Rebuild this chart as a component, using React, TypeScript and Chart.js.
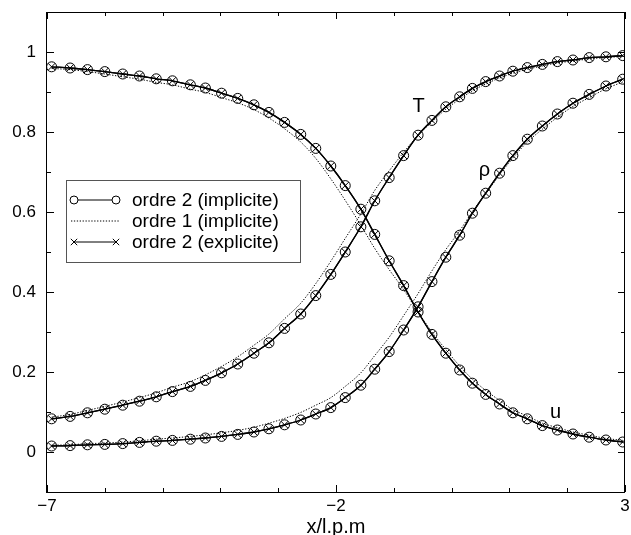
import React, { useEffect, useRef } from 'react';
import { Chart, registerables } from 'chart.js';

Chart.register(...registerables);

// mesh abscissae (x/l.p.m) of the plotted points
const xMesh = [-6.92, -6.6, -6.3, -6.0, -5.69, -5.4, -5.11, -4.83, -4.52, -4.26, -3.98, -3.7, -3.42, -3.16, -2.89, -2.61, -2.35, -2.09, -1.84, -1.57, -1.33, -1.08, -0.83, -0.58, -0.34, -0.1, 0.14, 0.36, 0.59, 0.83, 1.06, 1.31, 1.57, 1.83, 2.1, 2.38, 2.67, 2.96];

// u
const uOrdre2Impl = [0.963, 0.96, 0.956, 0.951, 0.945, 0.94, 0.933, 0.928, 0.918, 0.91, 0.897, 0.884, 0.868, 0.849, 0.824, 0.794, 0.759, 0.715, 0.666, 0.607, 0.544, 0.478, 0.416, 0.35, 0.294, 0.247, 0.205, 0.172, 0.144, 0.12, 0.098, 0.083, 0.066, 0.055, 0.045, 0.037, 0.03, 0.025];
const uOrdre1Impl = [0.959, 0.956, 0.951, 0.945, 0.938, 0.932, 0.924, 0.918, 0.907, 0.899, 0.886, 0.873, 0.856, 0.835, 0.808, 0.775, 0.734, 0.683, 0.629, 0.567, 0.509, 0.456, 0.406, 0.35, 0.3, 0.256, 0.215, 0.182, 0.154, 0.129, 0.106, 0.09, 0.072, 0.061, 0.05, 0.042, 0.034, 0.029];
const uOrdre2Expl = [0.963, 0.96, 0.956, 0.951, 0.945, 0.94, 0.933, 0.928, 0.918, 0.91, 0.897, 0.884, 0.868, 0.849, 0.824, 0.794, 0.759, 0.715, 0.666, 0.607, 0.544, 0.478, 0.416, 0.35, 0.294, 0.247, 0.205, 0.172, 0.144, 0.12, 0.098, 0.083, 0.066, 0.055, 0.045, 0.037, 0.03, 0.025];

// T
const tOrdre2Impl = [0.083, 0.089, 0.098, 0.107, 0.117, 0.127, 0.138, 0.151, 0.164, 0.179, 0.198, 0.22, 0.247, 0.273, 0.309, 0.345, 0.391, 0.444, 0.5, 0.563, 0.628, 0.686, 0.741, 0.792, 0.829, 0.863, 0.888, 0.909, 0.926, 0.94, 0.952, 0.961, 0.969, 0.976, 0.98, 0.986, 0.988, 0.991];
const tOrdre1Impl = [0.087, 0.094, 0.104, 0.114, 0.125, 0.136, 0.148, 0.162, 0.176, 0.193, 0.214, 0.238, 0.267, 0.295, 0.333, 0.372, 0.421, 0.477, 0.534, 0.595, 0.654, 0.703, 0.749, 0.792, 0.825, 0.857, 0.882, 0.903, 0.92, 0.935, 0.947, 0.957, 0.965, 0.973, 0.977, 0.983, 0.986, 0.989];
const tOrdre2Expl = [0.083, 0.089, 0.098, 0.107, 0.117, 0.127, 0.138, 0.151, 0.164, 0.179, 0.198, 0.22, 0.247, 0.273, 0.309, 0.345, 0.391, 0.444, 0.5, 0.563, 0.628, 0.686, 0.741, 0.792, 0.829, 0.863, 0.888, 0.909, 0.926, 0.94, 0.952, 0.961, 0.969, 0.976, 0.98, 0.986, 0.988, 0.991];

// rho
const rhoOrdre2Impl = [0.015, 0.016, 0.018, 0.019, 0.021, 0.024, 0.027, 0.029, 0.032, 0.035, 0.039, 0.044, 0.05, 0.058, 0.068, 0.08, 0.095, 0.111, 0.136, 0.167, 0.207, 0.251, 0.305, 0.363, 0.426, 0.487, 0.542, 0.597, 0.647, 0.697, 0.741, 0.782, 0.815, 0.845, 0.872, 0.894, 0.915, 0.932];
const rhoOrdre1Impl = [0.017, 0.018, 0.021, 0.022, 0.025, 0.028, 0.032, 0.035, 0.039, 0.043, 0.048, 0.054, 0.062, 0.072, 0.084, 0.099, 0.117, 0.136, 0.164, 0.198, 0.241, 0.287, 0.341, 0.396, 0.453, 0.506, 0.553, 0.601, 0.645, 0.693, 0.735, 0.775, 0.807, 0.837, 0.864, 0.886, 0.908, 0.925];
const rhoOrdre2Expl = [0.015, 0.016, 0.018, 0.019, 0.021, 0.024, 0.027, 0.029, 0.032, 0.035, 0.039, 0.044, 0.05, 0.058, 0.068, 0.08, 0.095, 0.111, 0.136, 0.167, 0.207, 0.251, 0.305, 0.363, 0.426, 0.487, 0.542, 0.597, 0.647, 0.697, 0.741, 0.782, 0.815, 0.845, 0.872, 0.894, 0.915, 0.932];

// axes
const xMajorTicks = [-7, -2, 3];
const xMinorTicks = [-6, -5, -4, -3, -1, 0, 1, 2];
const yMajorTicks = [0, 0.2, 0.4, 0.6, 0.8, 1];
const yMinorTicks = [0.1, 0.3, 0.5, 0.7, 0.9];
const xTickLabels = ['\u22127', '\u22122', '3'];
const xTitle = 'x/l.p.m';

const legendLabels = ['ordre 2 (implicite)', 'ordre 1 (implicite)', 'ordre 2 (explicite)'];
const curveNames = ['T', '\u03C1', 'u'];
const curveNameX = [-0.57, 0.57, 1.8];
const curveNameY = [0.865, 0.705, 0.1];

const FONT = '"Liberation Sans", Arial, Helvetica, sans-serif';

const toXY = (ys: number[]) => ys.map((y, i) => ({ x: xMesh[i], y }));

const styleImpl2 = {
  showLine: true,
  borderColor: '#000',
  borderWidth: 1.3,
  pointStyle: 'circle',
  pointRadius: 5,
  pointBorderWidth: 1,
  pointBorderColor: '#000',
  pointBackgroundColor: 'rgba(0,0,0,0)',
  cubicInterpolationMode: 'monotone',
};
const styleImpl1 = {
  showLine: true,
  borderColor: '#000',
  borderWidth: 1,
  borderDash: [1.3, 1.6],
  pointRadius: 0,
  cubicInterpolationMode: 'monotone',
};
const styleExpl2 = {
  showLine: true,
  borderColor: '#000',
  borderWidth: 1.3,
  pointStyle: 'crossRot',
  pointRadius: 5,
  pointBorderWidth: 1,
  pointBorderColor: '#000',
  cubicInterpolationMode: 'monotone',
};

const decorPlugin = {
  id: 'decor',
  afterDatasetsDraw(chart: any) {
    const { ctx, chartArea, scales } = chart;
    const { left, right, top, bottom } = chartArea;
    const xs = scales.x;
    const ys = scales.y;
    ctx.save();
    // frame
    ctx.strokeStyle = '#000';
    ctx.lineWidth = 1;
    ctx.strokeRect(left - 0.5, top + 0.5, right - left, bottom - top);
    // ticks (inward, on all four sides)
    const major = 7;
    const minor = 4;
    ctx.beginPath();
    const xt = (v: number, len: number) => {
      const p = Math.round(xs.getPixelForValue(v)) + 0.5;
      ctx.moveTo(p, bottom); ctx.lineTo(p, bottom - len);
      ctx.moveTo(p, top); ctx.lineTo(p, top + len);
    };
    const yt = (v: number, len: number) => {
      const p = Math.round(ys.getPixelForValue(v)) + 0.5;
      ctx.moveTo(left, p); ctx.lineTo(left + len, p);
      ctx.moveTo(right, p); ctx.lineTo(right - len, p);
    };
    xMajorTicks.forEach((v) => xt(v, major));
    xMinorTicks.forEach((v) => xt(v, minor));
    yMajorTicks.forEach((v) => yt(v, major));
    yMinorTicks.forEach((v) => yt(v, minor));
    ctx.stroke();

    // x tick labels and title
    ctx.fillStyle = '#000';
    ctx.textAlign = 'center';
    ctx.textBaseline = 'middle';
    ctx.font = `17px ${FONT}`;
    xMajorTicks.forEach((v, i) => {
      ctx.fillText(xTickLabels[i], xs.getPixelForValue(v), bottom + 14);
    });
    ctx.font = `20px ${FONT}`;
    ctx.fillText(xTitle, (left + right) / 2, bottom + 35);

    // curve names
    ctx.font = `20px ${FONT}`;
    curveNames.forEach((t, i) => {
      ctx.fillText(t, xs.getPixelForValue(curveNameX[i]), ys.getPixelForValue(curveNameY[i]));
    });

    // legend
    const bx = left + 19;
    const by = top + 168;
    const bw = 234;
    const bh = 82;
    ctx.fillStyle = '#fff';
    ctx.fillRect(bx, by, bw, bh);
    ctx.strokeStyle = '#555';
    ctx.lineWidth = 1;
    ctx.strokeRect(bx + 0.5, by + 0.5, bw, bh);
    const rows = [by + 20, by + 41, by + 62];
    const x0 = bx + 8;
    const x1 = bx + 50;
    ctx.strokeStyle = '#000';
    // row 1: line with circles
    ctx.beginPath();
    ctx.moveTo(x0 + 4, rows[0]); ctx.lineTo(x1 - 4, rows[0]);
    ctx.stroke();
    [x0, x1].forEach((px) => {
      ctx.beginPath();
      ctx.arc(px, rows[0], 4, 0, Math.PI * 2);
      ctx.stroke();
    });
    // row 2: dotted
    ctx.save();
    ctx.setLineDash([1.3, 1.6]);
    ctx.beginPath();
    ctx.moveTo(x0 - 3, rows[1]); ctx.lineTo(x1 + 3, rows[1]);
    ctx.stroke();
    ctx.restore();
    // row 3: line with crosses
    ctx.beginPath();
    ctx.moveTo(x0, rows[2]); ctx.lineTo(x1, rows[2]);
    [x0, x1].forEach((px) => {
      const r = 3.2;
      ctx.moveTo(px - r, rows[2] - r); ctx.lineTo(px + r, rows[2] + r);
      ctx.moveTo(px - r, rows[2] + r); ctx.lineTo(px + r, rows[2] - r);
    });
    ctx.stroke();
    ctx.fillStyle = '#000';
    ctx.textAlign = 'left';
    ctx.textBaseline = 'middle';
    ctx.font = `19px ${FONT}`;
    legendLabels.forEach((t, i) => ctx.fillText(t, bx + 66, rows[i] + 1));
    ctx.restore();
  },
};

export default function App() {
  const ref = useRef<HTMLCanvasElement | null>(null);
  useEffect(() => {
    document.body.style.margin = '0';
    const canvas = ref.current;
    if (!canvas) return;
    const datasets: any[] = [];
    const groups = [
      [uOrdre2Impl, uOrdre1Impl, uOrdre2Expl],
      [tOrdre2Impl, tOrdre1Impl, tOrdre2Expl],
      [rhoOrdre2Impl, rhoOrdre1Impl, rhoOrdre2Expl],
    ];
    groups.forEach(([a, b, c]) => {
      datasets.push({ ...styleImpl1, data: toXY(b) });
      datasets.push({ ...styleImpl2, data: toXY(a) });
      datasets.push({ ...styleExpl2, data: toXY(c) });
    });
    const chart = new Chart(canvas, {
      type: 'scatter',
      data: { datasets },
      options: {
        animation: false,
        responsive: false,
        devicePixelRatio: 1,
        layout: { padding: { top: 12, right: 3, left: 0, bottom: 0 } },
        plugins: { legend: { display: false }, tooltip: { enabled: false } },
        scales: {
          x: {
            type: 'linear',
            min: -7,
            max: 3,
            afterFit: (s: any) => {
              s.height = 43;
              s.paddingLeft = 0; s.paddingRight = 0; s.paddingTop = 0; s.paddingBottom = 0;
            },
            ticks: { display: false },
            grid: { display: false },
            border: { display: false },
          },
          y: {
            type: 'linear',
            min: -0.1,
            max: 1.1,
            afterBuildTicks: (s: any) => { s.ticks = yMajorTicks.map((v) => ({ value: v })); },
            afterFit: (s: any) => {
              s.width = 47;
              s.paddingLeft = 0; s.paddingRight = 0; s.paddingTop = 0; s.paddingBottom = 0;
            },
            ticks: {
              padding: 11,
              color: '#000',
              font: { family: FONT, size: 17 },
              callback: (v: any) => String(v),
            },
            grid: { display: false, drawTicks: false },
            border: { display: false },
          },
        },
      } as any,
      plugins: [decorPlugin],
    });
    return () => chart.destroy();
  }, []);
  return (
    <div style={{ width: 631, height: 535, background: '#fff' }}>
      <canvas ref={ref} width={631} height={535} style={{ display: 'block' }} />
    </div>
  );
}
